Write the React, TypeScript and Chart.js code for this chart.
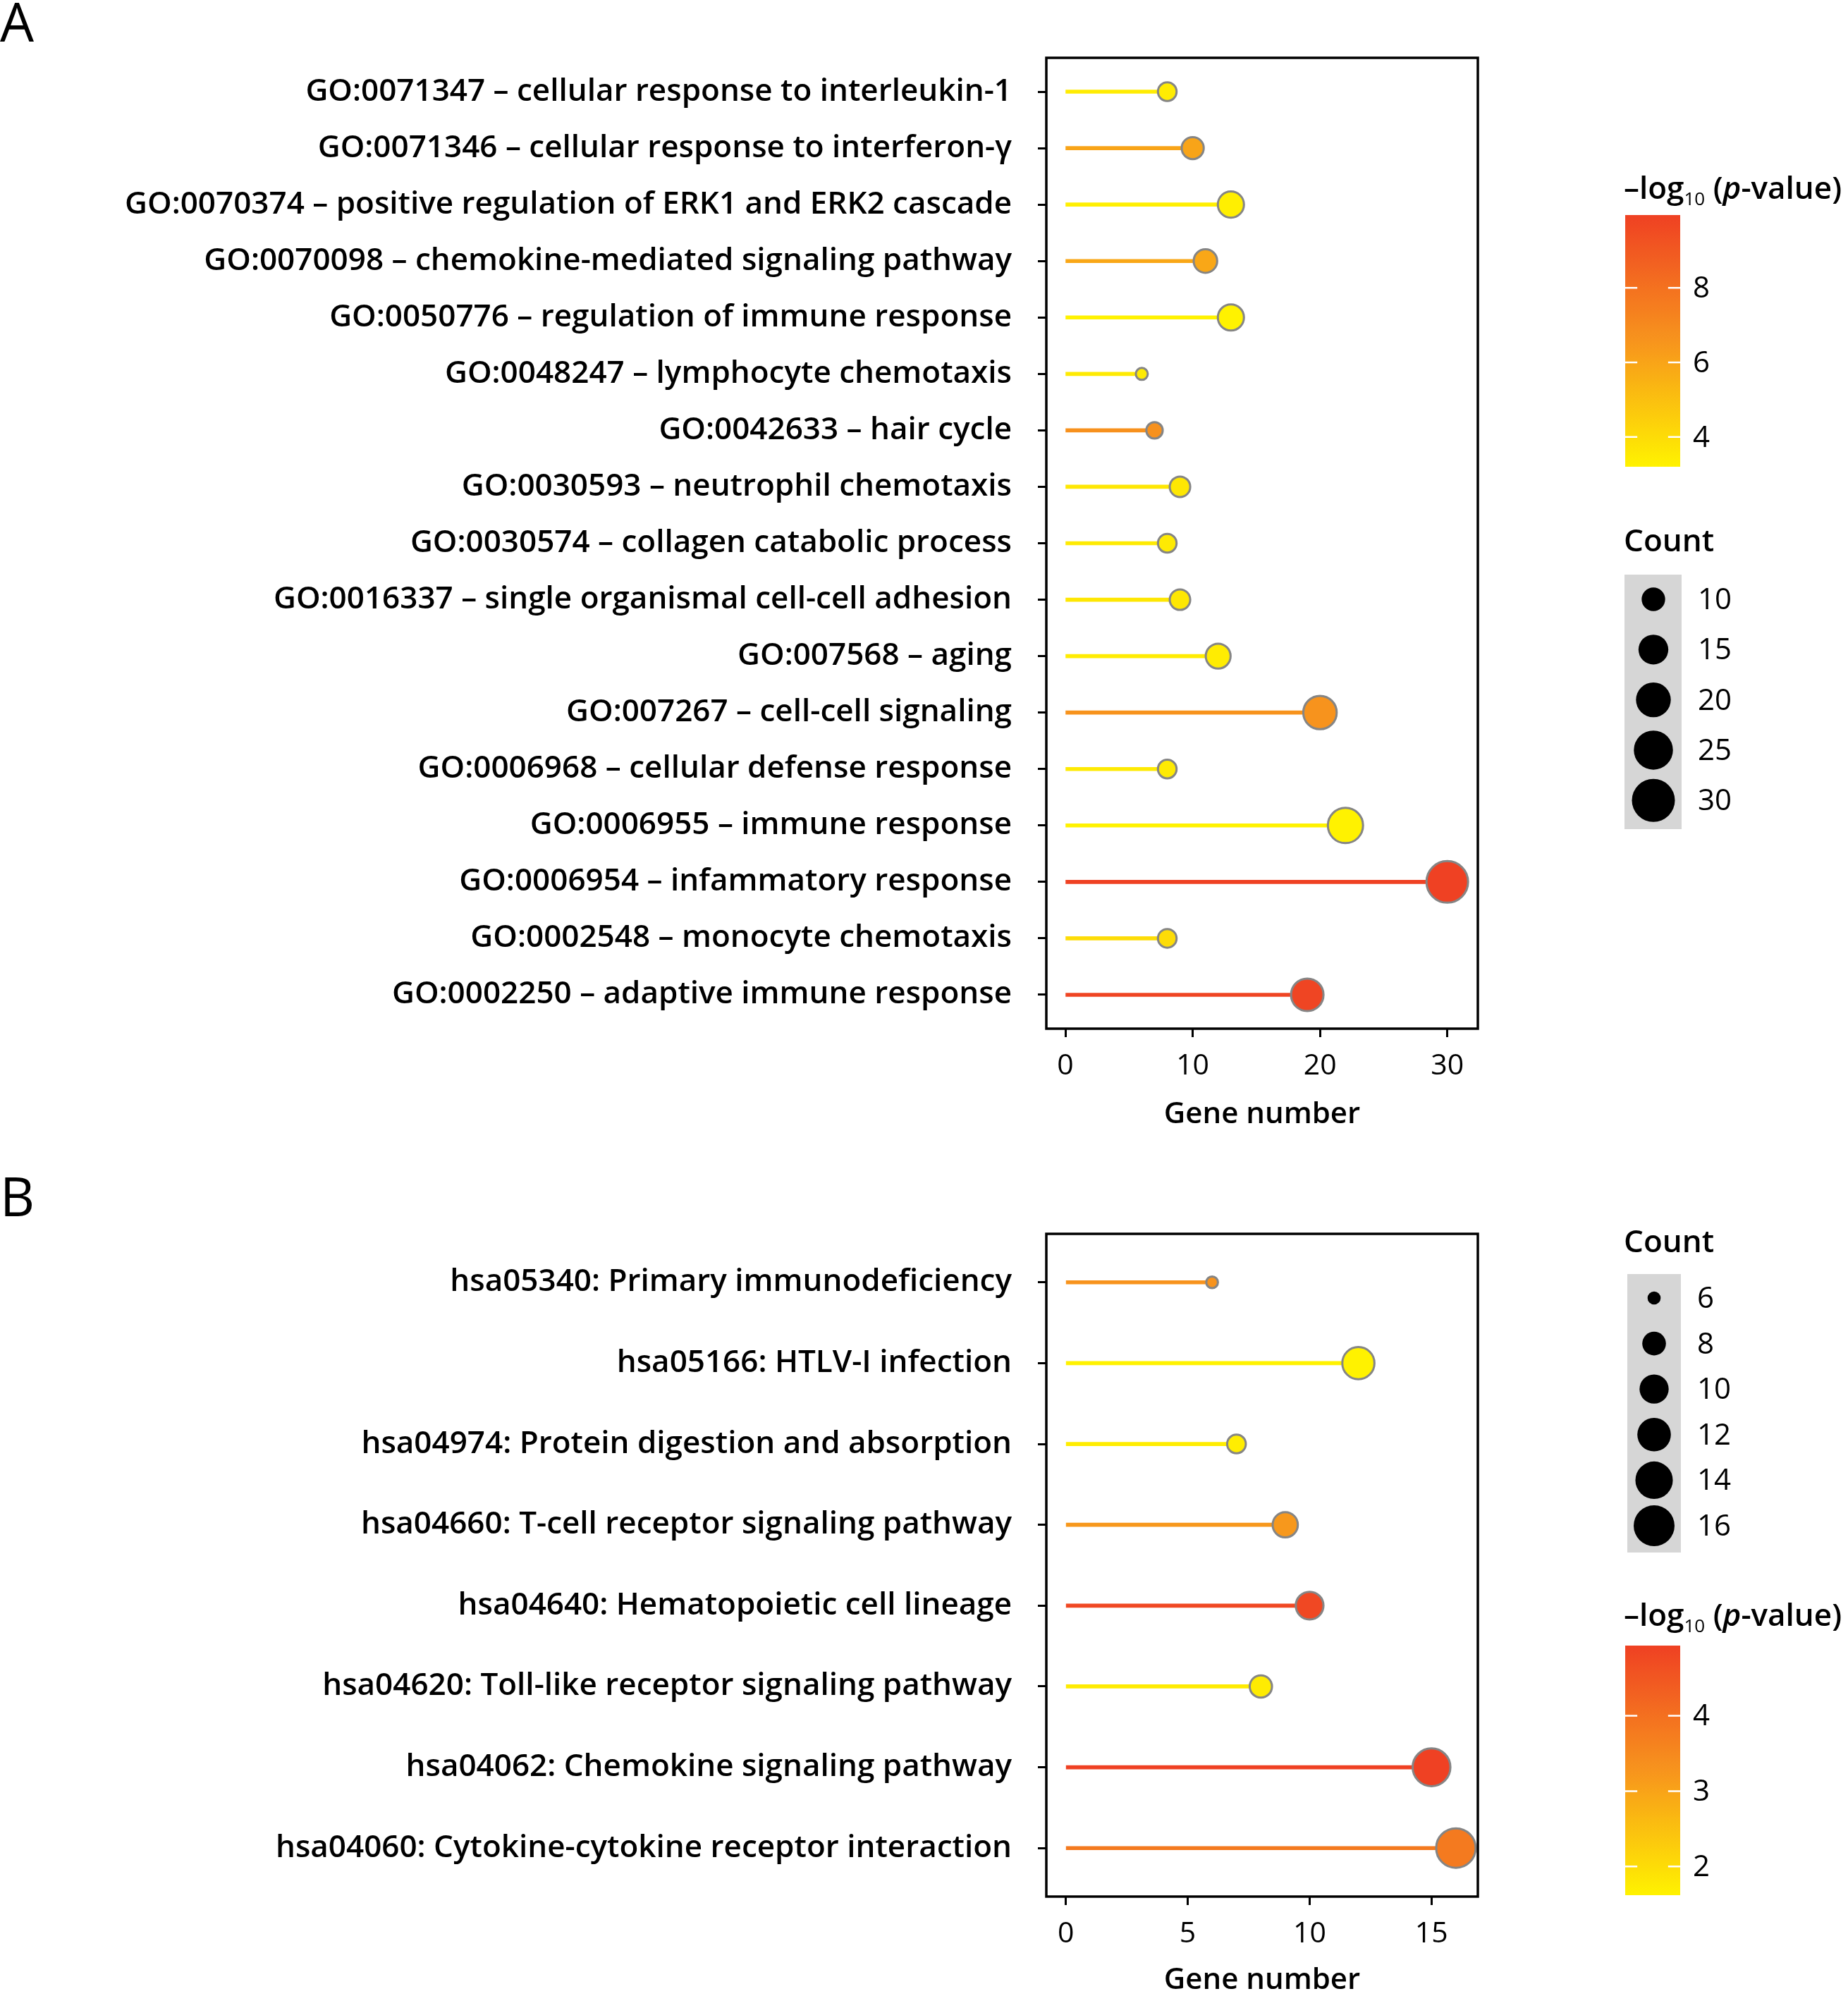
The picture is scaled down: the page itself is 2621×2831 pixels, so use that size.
import React, { useEffect, useRef } from "react";
import { Chart, registerables } from "chart.js";

Chart.register(...registerables);

const FONT = "'Open Sans', 'Noto Sans', sans-serif";

// ---------- Panel A data (GO terms) ----------
const goTerms = [
  "GO:0071347 – cellular response to interleukin-1",
  "GO:0071346 – cellular response to interferon-γ",
  "GO:0070374 – positive regulation of ERK1 and ERK2 cascade",
  "GO:0070098 – chemokine-mediated signaling pathway",
  "GO:0050776 – regulation of immune response",
  "GO:0048247 – lymphocyte chemotaxis",
  "GO:0042633 – hair cycle",
  "GO:0030593 – neutrophil chemotaxis",
  "GO:0030574 – collagen catabolic process",
  "GO:0016337 – single organismal cell-cell adhesion",
  "GO:007568 – aging",
  "GO:007267 – cell-cell signaling",
  "GO:0006968 – cellular defense response",
  "GO:0006955 – immune response",
  "GO:0006954 – infammatory response",
  "GO:0002548 – monocyte chemotaxis",
  "GO:0002250 – adaptive immune response",
];
const goGeneNumber = [8, 10, 13, 11, 13, 6, 7, 9, 8, 9, 12, 20, 8, 22, 30, 8, 19];
const goLogP = [3.4, 6.0, 3.3, 5.9, 3.2, 3.5, 6.7, 3.6, 3.5, 3.6, 3.4, 6.6, 3.5, 3.2, 9.95, 4.0, 9.8];
const goXTicks = [0, 10, 20, 30];
const goCountTicks = [10, 15, 20, 25, 30];
const goColorTicks = [4, 6, 8];

// ---------- Panel B data (KEGG pathways) ----------
const keggTerms = [
  "hsa05340: Primary immunodeficiency",
  "hsa05166: HTLV-I infection",
  "hsa04974: Protein digestion and absorption",
  "hsa04660: T-cell receptor signaling pathway",
  "hsa04640: Hematopoietic cell lineage",
  "hsa04620: Toll-like receptor signaling pathway",
  "hsa04062: Chemokine signaling pathway",
  "hsa04060: Cytokine-cytokine receptor interaction",
];
const keggGeneNumber = [6, 12, 7, 9, 10, 8, 15, 16];
const keggLogP = [3.3, 1.62, 1.7, 3.2, 4.8, 1.75, 4.93, 3.8];
const keggXTicks = [0, 5, 10, 15];
const keggCountTicks = [6, 8, 10, 12, 14, 16];
const keggColorTicks = [2, 3, 4];

// ---------- colour ramp ----------
const STOPS = [
  [255, 242, 0],
  [247, 148, 29],
  [239, 65, 35],
];
function rampColor(t: number): string {
  const c = Math.max(0, Math.min(1, t));
  const seg = c < 0.5 ? 0 : 1;
  const f = c < 0.5 ? c / 0.5 : (c - 0.5) / 0.5;
  const a = STOPS[seg];
  const b = STOPS[seg + 1];
  const r = Math.round(a[0] + (b[0] - a[0]) * f);
  const g = Math.round(a[1] + (b[1] - a[1]) * f);
  const bl = Math.round(a[2] + (b[2] - a[2]) * f);
  return `rgb(${r},${g},${bl})`;
}

interface PanelCfg {
  letter: string;
  letterBaseline: number;
  terms: string[];
  counts: number[];
  logp: number[];
  xTicks: number[];
  countTicks: number[];
  colorTicks: number[];
  xMin: number;
  xMax: number;
  height: number;
  areaTop: number;
  areaBottom: number;
  xAxisHeight: number;
  titlePadBottom: number;
  rMin: number;
  rMax: number;
  cbar: { titleY: number; top: number; bottom: number; x: number; w: number; labelX: number };
  cnt: { titleY: number; boxTop: number; boxBottom: number; boxX: number; boxW: number; first: number; step: number; cx: number; labelX: number };
}

const WIDTH = 2621;
const AREA_LEFT = 1484;
const AREA_RIGHT = 2096;

const panelA: PanelCfg = {
  letter: "A",
  letterBaseline: 59,
  terms: goTerms,
  counts: goGeneNumber,
  logp: goLogP,
  xTicks: goXTicks,
  countTicks: goCountTicks,
  colorTicks: goColorTicks,
  xMin: -1.5,
  xMax: 32.4,
  height: 1640,
  areaTop: 82,
  areaBottom: 1459,
  xAxisHeight: 150,
  titlePadBottom: 3,
  rMin: 9.5,
  rMax: 30.5,
  cbar: { titleY: 267, top: 305, bottom: 662, x: 2305, w: 78, labelX: 2401 },
  cnt: { titleY: 769, boxTop: 815, boxBottom: 1176, boxX: 2304, boxW: 81, first: 850, step: 71.3, cx: 2345, labelX: 2408 },
};

const panelB: PanelCfg = {
  letter: "B",
  letterBaseline: 85,
  terms: keggTerms,
  counts: keggGeneNumber,
  logp: keggLogP,
  xTicks: keggXTicks,
  countTicks: keggCountTicks,
  colorTicks: keggColorTicks,
  xMin: -0.8,
  xMax: 16.9,
  height: 1191,
  areaTop: 110,
  areaBottom: 1050,
  xAxisHeight: 141,
  titlePadBottom: -3,
  rMin: 9.3,
  rMax: 29,
  cbar: { titleY: 651, top: 694, bottom: 1048, x: 2305, w: 78, labelX: 2401 },
  cnt: { titleY: 123, boxTop: 167, boxBottom: 562, boxX: 2308, boxW: 76, first: 201, step: 64.6, cx: 2346, labelX: 2407 },
};

function sizeFor(v: number, vmin: number, vmax: number, rMin: number, rMax: number) {
  const t = Math.max(0, Math.min(1, (v - vmin) / (vmax - vmin)));
  return rMin + Math.pow(t, 0.6) * (rMax - rMin);
}

function drawLogTitle(ctx: CanvasRenderingContext2D, x: number, baseline: number) {
  const size = 44;
  ctx.textAlign = "left";
  ctx.textBaseline = "alphabetic";
  let cx = x;
  const seg = (text: string, font: string, dy = 0) => {
    ctx.font = font;
    ctx.fillText(text, cx, baseline + dy);
    cx += ctx.measureText(text).width;
  };
  seg("–log", `600 ${size}px ${FONT}`);
  seg("10", `500 ${Math.round(size * 0.58)}px ${FONT}`, size * 0.2);
  seg(" (", `600 ${size}px ${FONT}`);
  seg("p", `italic 600 ${size}px ${FONT}`);
  seg("-value)", `600 ${size}px ${FONT}`);
}

function makeDecor(cfg: PanelCfg) {
  return {
    id: "panelDecor",
    afterDraw(chart: Chart) {
      const ctx = chart.ctx;
      const area = chart.chartArea;
      ctx.save();
      // plot frame
      ctx.strokeStyle = "#000";
      ctx.lineWidth = 3.5;
      ctx.strokeRect(area.left, area.top, area.right - area.left, area.bottom - area.top);

      // panel letter
      ctx.fillStyle = "#000";
      ctx.font = `500 76px ${FONT}`;
      ctx.textAlign = "left";
      ctx.textBaseline = "alphabetic";
      ctx.fillText(cfg.letter, 0, cfg.letterBaseline);

      // colour bar
      const lmin = Math.min(...cfg.logp);
      const lmax = Math.max(...cfg.logp);
      const cb = cfg.cbar;
      drawLogTitle(ctx, 2303, cb.titleY + 15);
      const grad = ctx.createLinearGradient(0, cb.bottom, 0, cb.top);
      for (let i = 0; i <= 20; i++) grad.addColorStop(i / 20, rampColor(i / 20));
      ctx.fillStyle = grad;
      ctx.fillRect(cb.x, cb.top, cb.w, cb.bottom - cb.top);
      ctx.strokeStyle = "#fff";
      ctx.lineWidth = 2.5;
      ctx.font = `400 42px ${FONT}`;
      ctx.textBaseline = "middle";
      ctx.textAlign = "left";
      cfg.colorTicks.forEach((v) => {
        const y = cb.bottom - ((v - lmin) / (lmax - lmin)) * (cb.bottom - cb.top);
        ctx.beginPath();
        ctx.moveTo(cb.x, y);
        ctx.lineTo(cb.x + cb.w * 0.22, y);
        ctx.moveTo(cb.x + cb.w * 0.78, y);
        ctx.lineTo(cb.x + cb.w, y);
        ctx.stroke();
        ctx.fillStyle = "#000";
        ctx.fillText(String(v), cb.labelX, y + 2);
      });

      // count legend
      const cn = cfg.cnt;
      const cmin = Math.min(...cfg.counts);
      const cmax = Math.max(...cfg.counts);
      ctx.fillStyle = "#000";
      ctx.font = `600 44px ${FONT}`;
      ctx.textBaseline = "middle";
      ctx.fillText("Count", 2303, cn.titleY);
      ctx.fillStyle = "#d6d6d6";
      ctx.fillRect(cn.boxX, cn.boxTop, cn.boxW, cn.boxBottom - cn.boxTop);
      ctx.font = `400 42px ${FONT}`;
      cfg.countTicks.forEach((v, i) => {
        const y = cn.first + i * cn.step;
        const r = sizeFor(v, cmin, cmax, cfg.rMin, cfg.rMax);
        ctx.fillStyle = "#000";
        ctx.beginPath();
        ctx.arc(cn.cx, y, r, 0, Math.PI * 2);
        ctx.fill();
        ctx.fillText(String(v), cn.labelX, y + 2);
      });
      ctx.restore();
    },
  };
}

function Panel({ cfg }: { cfg: PanelCfg }) {
  const ref = useRef<HTMLCanvasElement | null>(null);
  useEffect(() => {
    if (!ref.current) return;
    const lmin = Math.min(...cfg.logp);
    const lmax = Math.max(...cfg.logp);
    const cmin = Math.min(...cfg.counts);
    const cmax = Math.max(...cfg.counts);
    const colors = cfg.logp.map((v) => rampColor((v - lmin) / (lmax - lmin)));
    const pts = cfg.counts.map((c, i) => ({ x: c, y: i }));
    const radii = cfg.counts.map((c) => sizeFor(c, cmin, cmax, cfg.rMin, cfg.rMax) - 1);
    const n = cfg.terms.length;
    const tickGrid = {
      display: true,
      offset: false,
      drawOnChartArea: false,
      drawTicks: true,
      tickLength: 12,
      tickWidth: 3,
      tickColor: "#000",
    };
    const chart = new Chart(ref.current, {
      type: "bar",
      data: {
        datasets: [
          {
            type: "scatter",
            data: pts,
            pointRadius: radii,
            pointHoverRadius: radii,
            pointBackgroundColor: colors,
            pointBorderColor: "#858585",
            pointBorderWidth: 3,
            pointHoverBorderWidth: 3,
            order: 0,
            clip: false,
          } as any,
          {
            type: "bar",
            indexAxis: "y",
            data: pts,
            backgroundColor: colors,
            barThickness: 5,
            borderWidth: 0,
            order: 1,
          } as any,
        ],
      },
      options: {
        animation: false,
        responsive: false,
        devicePixelRatio: 1,
        layout: {
          padding: {
            left: 0,
            right: WIDTH - AREA_RIGHT,
            top: cfg.areaTop,
            bottom: cfg.height - cfg.areaBottom - cfg.xAxisHeight,
          },
        },
        plugins: { legend: { display: false }, tooltip: { enabled: false } },
        scales: {
          x: {
            type: "linear",
            position: "bottom",
            offset: false,
            min: cfg.xMin,
            max: cfg.xMax,
            afterBuildTicks: (s: any) => {
              s.ticks = cfg.xTicks.map((v) => ({ value: v }));
            },
            afterFit: (s: any) => {
              s.height = cfg.xAxisHeight;
            },
            grid: tickGrid,
            border: { display: false },
            ticks: {
              font: { family: FONT, size: 41, weight: "400" },
              color: "#000",
              padding: 17,
              maxRotation: 0,
              autoSkip: false,
            },
            title: {
              display: true,
              text: "Gene number",
              color: "#000",
              font: { family: FONT, size: 42, weight: "600" },
              padding: { top: 0, bottom: cfg.titlePadBottom },
            },
          },
          y: {
            type: "linear",
            position: "left",
            offset: false,
            min: -0.6,
            max: n - 1 + 0.6,
            reverse: true,
            afterBuildTicks: (s: any) => {
              s.ticks = cfg.terms.map((_, i) => ({ value: i }));
            },
            afterFit: (s: any) => {
              s.width = AREA_LEFT;
            },
            grid: tickGrid,
            border: { display: false },
            ticks: {
              callback: (v: any) => cfg.terms[Math.round(Number(v))] ?? "",
              font: { family: FONT, size: 44, weight: "600" },
              color: "#000",
              padding: 37,
              autoSkip: false,
            },
          },
        },
      } as any,
      plugins: [makeDecor(cfg) as any],
    });
    return () => chart.destroy();
  }, [cfg]);
  return <canvas ref={ref} width={WIDTH} height={cfg.height} style={{ display: "block" }} />;
}

export default function App() {
  useEffect(() => {
    document.body.style.margin = "0";
    document.body.style.background = "#fff";
  }, []);
  return (
    <div style={{ width: WIDTH, background: "#fff" }}>
      <Panel cfg={panelA} />
      <Panel cfg={panelB} />
    </div>
  );
}
